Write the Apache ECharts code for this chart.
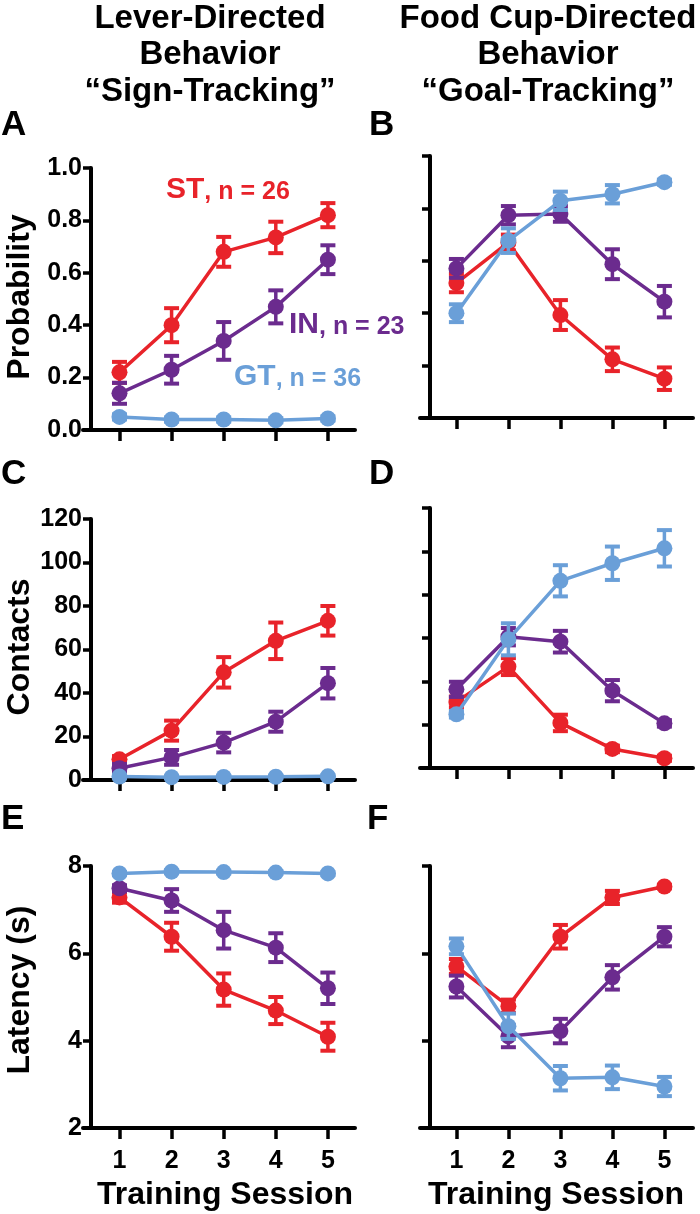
<!DOCTYPE html>
<html><head><meta charset="utf-8">
<script src="https://cdn.jsdelivr.net/npm/echarts@6/dist/echarts.min.js"></script>
<style>html,body{margin:0;padding:0;background:#fff}#c{width:700px;height:1214px}</style>
</head><body><div id="c"></div>
<script>
// ---------- DATA ----------
const sessions = [1, 2, 3, 4, 5];
const groupNames = ['ST', 'IN', 'GT'];
const groupN = [26, 23, 36];
const colHeaders = ['Lever-Directed\nBehavior\n\u201CSign-Tracking\u201D', 'Food Cup-Directed\nBehavior\n\u201CGoal-Tracking\u201D'];
const panelLetters = ['A', 'B', 'C', 'D', 'E', 'F'];
const rowTitles = ['Probability', 'Contacts', 'Latency (s)'];
const xTitle = 'Training Session';

// A: lever-directed probability
const leverProbST = [0.22, 0.40, 0.68, 0.735, 0.82];
const leverProbSTsem = [0.04, 0.065, 0.057, 0.06, 0.046];
const leverProbIN = [0.14, 0.23, 0.34, 0.47, 0.65];
const leverProbINsem = [0.04, 0.053, 0.072, 0.063, 0.055];
const leverProbGT = [0.05, 0.04, 0.04, 0.037, 0.044];
const leverProbGTsem = [0.01, 0.008, 0.008, 0.008, 0.008];
// B: food cup-directed probability
const cupProbST = [0.515, 0.67, 0.393, 0.224, 0.15];
const cupProbSTsem = [0.035, 0.03, 0.057, 0.045, 0.043];
const cupProbIN = [0.571, 0.774, 0.779, 0.587, 0.444];
const cupProbINsem = [0.036, 0.035, 0.03, 0.057, 0.06];
const cupProbGT = [0.40, 0.677, 0.829, 0.854, 0.90];
const cupProbGTsem = [0.034, 0.047, 0.035, 0.035, 0.01];
// C: lever contacts
const leverContST = [9.5, 22.7, 49.5, 64, 73.2];
const leverContSTsem = [1.5, 4.6, 7, 8.4, 6.8];
const leverContIN = [5.4, 10.4, 17.2, 26.8, 44.5];
const leverContINsem = [2, 3.4, 4.5, 4.6, 7];
const leverContGT = [1.6, 1.3, 1.4, 1.5, 1.7];
const leverContGTsem = [0.5, 0.4, 0.4, 0.4, 0.5];
// D: food cup contacts
const cupContST = [30.5, 46.8, 20.8, 8.8, 4.5];
const cupContSTsem = [2.5, 3.9, 3.8, 1.5, 1.2];
const cupContIN = [36.3, 60.6, 58.3, 35.7, 20.6];
const cupContINsem = [3.5, 4, 5, 4.9, 1.5];
const cupContGT = [24.8, 59.4, 86.4, 94.5, 101.4];
const cupContGTsem = [1.5, 7.4, 7.2, 7.7, 8.4];
// E: lever latency
const leverLatST = [7.28, 6.38, 5.17, 4.69, 4.09];
const leverLatSTsem = [0.12, 0.32, 0.37, 0.31, 0.32];
const leverLatIN = [7.49, 7.21, 6.53, 6.13, 5.2];
const leverLatINsem = [0.07, 0.26, 0.42, 0.33, 0.36];
const leverLatGT = [7.83, 7.87, 7.86, 7.85, 7.83];
const leverLatGTsem = [0.03, 0.03, 0.03, 0.03, 0.03];
// F: food cup latency
const cupLatST = [5.70, 4.79, 6.38, 7.28, 7.53];
const cupLatSTsem = [0.17, 0.15, 0.27, 0.15, 0.04];
const cupLatIN = [5.24, 4.10, 4.22, 5.45, 6.38];
const cupLatINsem = [0.25, 0.25, 0.28, 0.28, 0.22];
const cupLatGT = [6.16, 4.33, 3.14, 3.16, 2.95];
const cupLatGTsem = [0.18, 0.29, 0.28, 0.27, 0.22];

// y-axis scales per row
const yMins = [0, 0, 2];
const yMaxs = [1, 120, 8];
const yIntervals = [0.2, 20, 2];

// ---------- STYLE / LAYOUT ----------
const colors = ['#E8232A', '#6B2B8E', '#6A9FD8'];
const FONT = '"Liberation Sans", Arial, Helvetica, sans-serif';
const panels = [
  {means: [leverProbST, leverProbIN, leverProbGT], sems: [leverProbSTsem, leverProbINsem, leverProbGTsem], row: 0, col: 0, top: 168, h: 262},
  {means: [cupProbST, cupProbIN, cupProbGT], sems: [cupProbSTsem, cupProbINsem, cupProbGTsem], row: 0, col: 1, top: 156, h: 262},
  {means: [leverContST, leverContIN, leverContGT], sems: [leverContSTsem, leverContINsem, leverContGTsem], row: 1, col: 0, top: 519, h: 261},
  {means: [cupContST, cupContIN, cupContGT], sems: [cupContSTsem, cupContINsem, cupContGTsem], row: 1, col: 1, top: 508, h: 260},
  {means: [leverLatST, leverLatIN, leverLatGT], sems: [leverLatSTsem, leverLatINsem, leverLatGTsem], row: 2, col: 0, top: 866, h: 262},
  {means: [cupLatST, cupLatIN, cupLatGT], sems: [cupLatSTsem, cupLatINsem, cupLatGTsem], row: 2, col: 1, top: 866, h: 262}
];
const colLeft = [83, 420];
const colWidth = [272, 273];
const colXMax = [5.52, 5.55];
const colYOffset = [-8, -10];

function errRender(params, api) {
  const x = api.value(0), lo = api.value(1), hi = api.value(2);
  const a = api.coord([x, lo]), b = api.coord([x, hi]);
  const c = api.visual('color');
  const w = 7.5;
  return {type: 'group', children: [
    {type: 'line', shape: {x1: a[0], y1: a[1], x2: b[0], y2: b[1]}, style: {stroke: c, lineWidth: 3.5}},
    {type: 'line', shape: {x1: a[0] - w, y1: a[1], x2: a[0] + w, y2: a[1]}, style: {stroke: c, lineWidth: 4}},
    {type: 'line', shape: {x1: b[0] - w, y1: b[1], x2: b[0] + w, y2: b[1]}, style: {stroke: c, lineWidth: 4}}
  ]};
}

const grid = [], xAxis = [], yAxis = [], series = [];
panels.forEach((p, i) => {
  grid.push({left: colLeft[p.col], width: colWidth[p.col], top: p.top, height: p.h});
  const bottomRow = p.row === 2;
  xAxis.push({
    type: 'value', gridIndex: i, min: 0.3, max: colXMax[p.col],
    axisLine: {onZero: false, lineStyle: {color: '#000', width: 4}},
    axisTick: {show: true, customValues: sessions, length: 11, lineStyle: {color: '#000', width: 3.5}},
    axisLabel: {show: bottomRow, customValues: sessions, margin: 21, fontSize: 25, fontWeight: 'bold', color: '#000', fontFamily: FONT},
    splitLine: {show: false}
  });
  yAxis.push({
    type: 'value', gridIndex: i, min: yMins[p.row], max: yMaxs[p.row], interval: yIntervals[p.row],
    offset: colYOffset[p.col],
    axisLine: {show: true, onZero: false, lineStyle: {color: '#000', width: 4}},
    axisTick: {show: true, length: 8, lineStyle: {color: '#000', width: 3.5}},
    axisLabel: {show: p.col === 0, margin: 9, fontSize: 25, fontWeight: 'bold', color: '#000', fontFamily: FONT,
      formatter: v => p.row === 0 ? v.toFixed(1) : String(v)},
    splitLine: {show: false}
  });
  for (let g = 0; g < 3; g++) {
    const m = p.means[g], s = p.sems[g];
    series.push({
      type: 'custom', xAxisIndex: i, yAxisIndex: i, renderItem: errRender, clip: false,
      itemStyle: {color: colors[g]}, z: 2 + g * 2,
      data: sessions.map((x, k) => [x, m[k] - s[k], m[k] + s[k]])
    });
    series.push({
      type: 'line', xAxisIndex: i, yAxisIndex: i, z: 3 + g * 2,
      symbol: 'circle', symbolSize: 16, showSymbol: true,
      itemStyle: {color: colors[g]}, lineStyle: {color: colors[g], width: 3.5},
      data: sessions.map((x, k) => [x, m[k]]), animation: false
    });
  }
});

const graphic = [];
// column headers
[210, 548].forEach((cx, c) => graphic.push({type: 'text', x: cx, y: 55,
  style: {text: colHeaders[c], align: 'center', verticalAlign: 'middle', fontSize: 33, fontWeight: 'bold', fontFamily: FONT, fill: '#000', lineHeight: 36.5}}));
// panel letters
const letterPos = [[1, 125], [369, 125], [1, 474], [369, 474], [1, 819], [367, 819]];
panelLetters.forEach((L, i) => graphic.push({type: 'text', x: letterPos[i][0], y: letterPos[i][1],
  style: {text: L, align: 'left', verticalAlign: 'middle', fontSize: 35, fontWeight: 'bold', fontFamily: FONT, fill: '#000'}}));
// row titles
[[20, 297], [20, 647], [20, 990]].forEach((pos, r) => graphic.push({type: 'text', x: pos[0], y: pos[1], rotation: Math.PI / 2,
  style: {text: rowTitles[r], align: 'center', verticalAlign: 'middle', fontSize: 32, fontWeight: 'bold', fontFamily: FONT, fill: '#000'}}));
// x titles
[225, 556].forEach(cx => graphic.push({type: 'text', x: cx, y: 1195,
  style: {text: xTitle, align: 'center', verticalAlign: 'middle', fontSize: 32, fontWeight: 'bold', fontFamily: FONT, fill: '#000'}}));
// group labels
const labelPos = [[166, 205], [289, 340], [234, 392]];
groupNames.forEach((gname, g) => graphic.push({type: 'text', x: labelPos[g][0], y: labelPos[g][1],
  style: {text: '{a|' + gname + '}{b|, n = ' + groupN[g] + '}', align: 'left', verticalAlign: 'bottom', fontFamily: FONT,
    rich: {a: {fontSize: 30, fontWeight: 'bold', fill: colors[g], fontFamily: FONT, verticalAlign: 'bottom', lineHeight: 32},
           b: {fontSize: 25, fontWeight: 'bold', fill: colors[g], fontFamily: FONT, verticalAlign: 'bottom', lineHeight: 32}}}}));

const chart = echarts.init(document.getElementById('c'), null, {renderer: 'canvas'});
chart.setOption({animation: false, backgroundColor: '#fff', grid, xAxis, yAxis, series, graphic});
</script></body></html>
